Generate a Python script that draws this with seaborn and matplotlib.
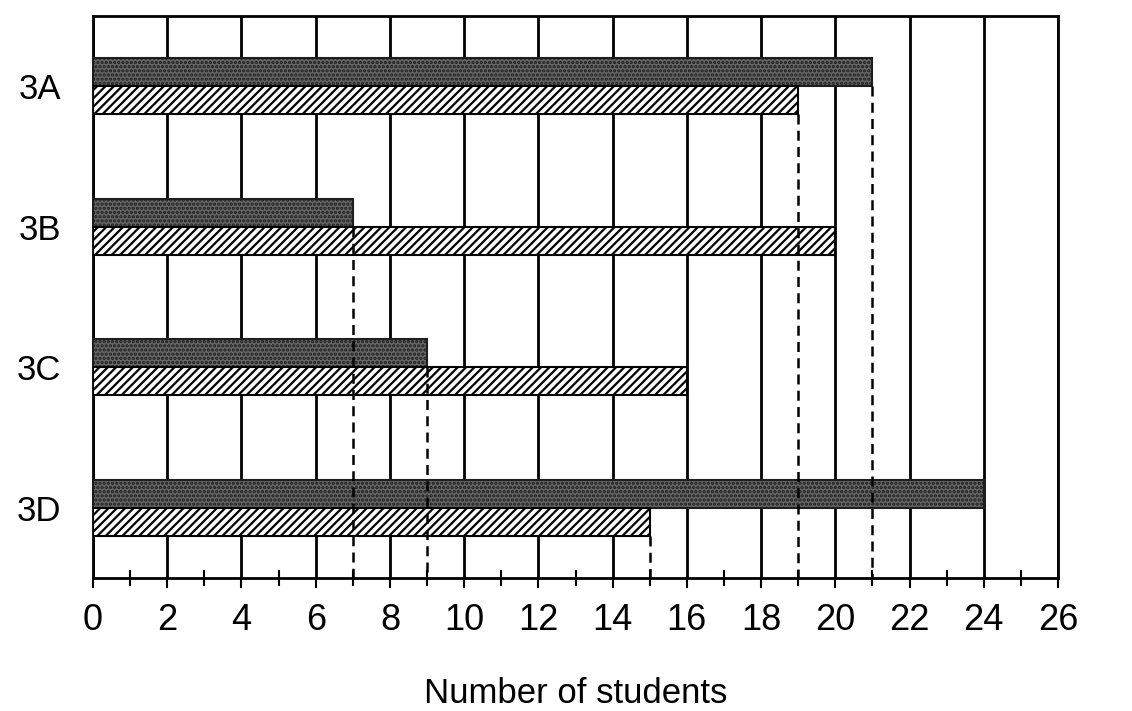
import numpy as np
import pandas as pd
import matplotlib
matplotlib.use("Agg")
from matplotlib import pyplot as plt
from matplotlib.ticker import MultipleLocator
import seaborn as sns

# data
classes = ["3A", "3B", "3C", "3D"]
series_names = ["Series 1", "Series 2"]
dark_values = [21, 7, 9, 24]
hatched_values = [19, 20, 16, 15]
x_ticks = list(range(0, 27, 2))

df = pd.DataFrame({
    "class": classes * 2,
    "students": dark_values + hatched_values,
    "series": [series_names[0]] * 4 + [series_names[1]] * 4,
})

sns.set_style("white")
plt.rcParams["font.family"] = ["Liberation Sans", "DejaVu Sans"]
plt.rcParams["hatch.linewidth"] = 1.6
plt.rcParams["hatch.color"] = "black"
for key in ["text.color", "axes.labelcolor", "xtick.color", "ytick.color"]:
    plt.rcParams[key] = "black"

fig = plt.figure(figsize=(11.32, 7.11), dpi=100)
ax = fig.add_axes([0.0822, 0.187, 0.8524, 0.7905])

sns.barplot(data=df, y="class", x="students", hue="series", orient="h",
            palette=["#666666", "white"], width=0.4, dodge=True,
            edgecolor="black", linewidth=1.5, legend=False, ax=ax, zorder=3)

# dark bars stippled, second series diagonally hatched
n = len(classes)
for i, patch in enumerate(ax.patches):
    if i < n:
        patch.set_hatch("....")
        patch.set_edgecolor("#1e1e1e")
    else:
        patch.set_hatch("////")
        patch.set_edgecolor("black")

ax.set_xlim(0, 26)
ax.set_ylim(n - 0.5, -0.5)

# dashed drop lines for values that fall between gridlines
for patch in ax.patches:
    val = patch.get_width()
    if val % 2 == 1:
        y_start = patch.get_y() + patch.get_height()
        ax.vlines(val, y_start, n - 0.5, colors="black", linestyles=(0, (4, 2.5)),
                  linewidth=1.8, zorder=4)

ax.set_xticks(x_ticks)
ax.xaxis.set_minor_locator(MultipleLocator(1))
ax.grid(axis="x", which="major", color="black", linewidth=2)
ax.grid(axis="y", visible=False)
ax.set_axisbelow(True)

for spine in ax.spines.values():
    spine.set_visible(True)
    spine.set_color("black")
    spine.set_linewidth(2)

ax.tick_params(axis="x", which="major", direction="out", length=7, width=1.5,
               labelsize=26, pad=11, colors="black", bottom=True)
ax.tick_params(axis="x", which="minor", direction="inout", length=11, width=1.5,
               bottom=True)
ax.tick_params(axis="y", length=0, labelsize=25, pad=23)

ax.set_ylabel("")
ax.set_xlabel("Number of students", fontsize=25, labelpad=28)

plt.savefig("out.png", dpi=100)
